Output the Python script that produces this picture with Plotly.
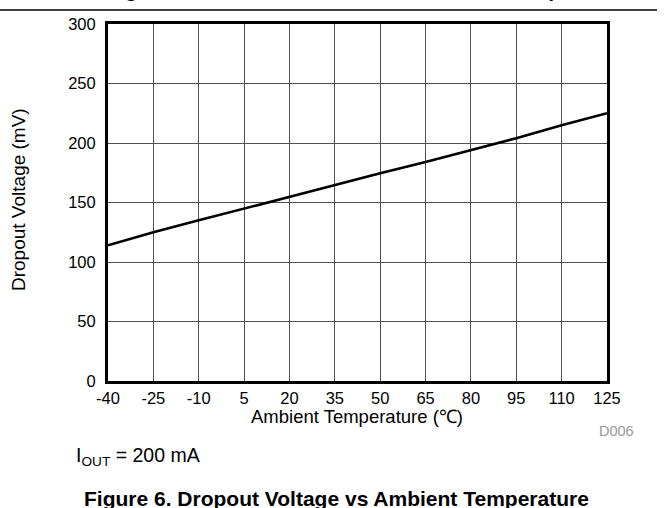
import plotly.graph_objects as go

temps = [-40, -25, -10, 5, 20, 35, 50, 65, 80, 95, 110, 125]
dropout_mv = [114, 125, 135, 145, 155, 165, 174.5, 184, 194, 204, 215, 225]
x_ticks = [-40, -25, -10, 5, 20, 35, 50, 65, 80, 95, 110, 125]
y_ticks = [0, 50, 100, 150, 200, 250, 300]

FONT = "Liberation Sans, Arial, sans-serif"
W, H = 671, 508
L, R, T, B = 108, 64, 24, 127
pw, ph = W - L - R, H - T - B

def px(xp):
    return (xp - L) / pw

def py(yp):
    return (H - B - yp) / ph

fig = go.Figure()
fig.add_trace(go.Scatter(x=temps, y=dropout_mv, mode="lines",
                         line=dict(color="black", width=2.6), showlegend=False,
                         hoverinfo="skip"))

fig.update_layout(
    width=W, height=H, margin=dict(l=L, r=R, t=T, b=B),
    paper_bgcolor="white", plot_bgcolor="white",
    font=dict(family=FONT, size=16, color="black"),
    xaxis=dict(range=[-40, 125], tickvals=x_ticks, ticktext=[str(v) for v in x_ticks],
               showgrid=True, gridcolor="#505050", gridwidth=1,
               showline=True, linecolor="black", linewidth=3, mirror=True,
               ticks="", tickfont=dict(size=16.5), zeroline=False),
    yaxis=dict(range=[0, 300], tickvals=y_ticks,
               showgrid=True, gridcolor="#505050", gridwidth=1,
               showline=True, linecolor="black", linewidth=3, mirror=True,
               ticks="outside", ticklen=6, tickcolor="rgba(0,0,0,0)",
               tickfont=dict(size=16.5), zeroline=False),
)

fig.add_shape(type="line", xref="paper", yref="paper",
              x0=px(0), x1=px(657), y0=py(10), y1=py(10),
              line=dict(color="black", width=1.5))

annos = [
    dict(text="<b>Figure 5. Shutdown Current vs Ambient Temperature</b>", x=px(104), y=py(3),
         xanchor="left", yanchor="bottom", font=dict(size=21)),
    dict(text="Ambient Temperature (℃)", x=px(357), y=py(416), xanchor="center",
         yanchor="middle", font=dict(size=18.5)),
    dict(text="Dropout Voltage (mV)", x=px(18), y=py(200), xanchor="center",
         yanchor="middle", textangle=-90, font=dict(size=19)),
    dict(text="D006", x=px(636), y=py(431), xanchor="right", yanchor="middle",
         font=dict(size=14.5, color="#999999")),
    dict(text="I<sub>OUT</sub> = 200 mA", x=px(74), y=py(457), xanchor="left", yanchor="middle",
         font=dict(size=19.5)),
    dict(text="<b>Figure 6. Dropout Voltage vs Ambient Temperature</b>", x=px(336), y=py(498),
         xanchor="center", yanchor="middle", font=dict(size=21)),
]
for a in annos:
    fig.add_annotation(xref="paper", yref="paper", showarrow=False, **a)

fig.write_html("out.html", config={"displayModeBar": False},
               post_script="document.body.style.margin='0';document.documentElement.style.overflow='hidden';")
